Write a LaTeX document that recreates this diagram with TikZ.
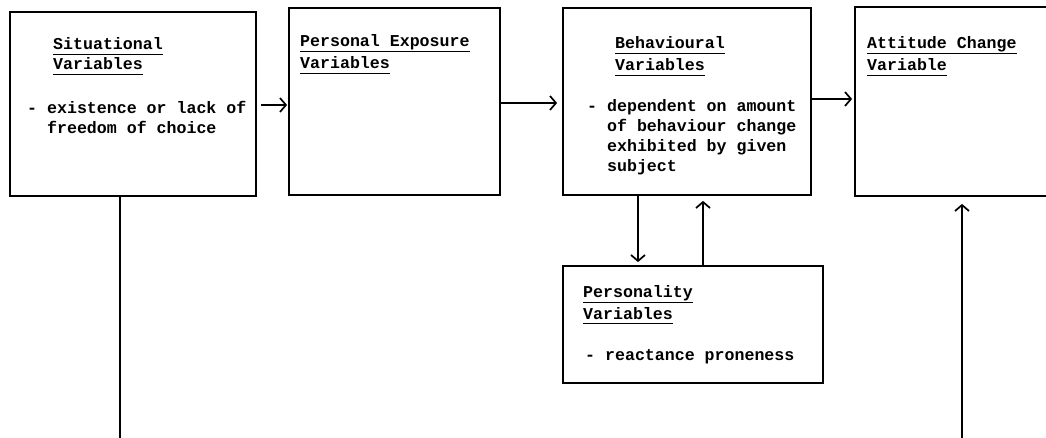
\documentclass[tikz,border=0pt]{standalone}
\usepackage{fontspec}
\newfontfamily\tw{Liberation Mono}
\usetikzlibrary{arrows.meta,calc}
\tikzset{
  box/.style={draw, line width=1.8pt, rectangle, inner sep=0pt},
  txt/.style={anchor=base west, inner sep=0pt, font=\tw\bfseries\fontsize{16.6}{20}\selectfont, align=left},
  ul/.style={txt, append after command={([yshift=-4.5pt]\tikzlastnode.base west) edge[line width=1.8pt] ([yshift=-4.5pt]\tikzlastnode.base east)}},
  conn/.style={line width=1.7pt},
  arr/.style={conn, -{Straight Barb[length=6pt,width=14pt,line width=1.7pt]}},
}
\begin{document}
\begin{tikzpicture}[x=1pt,y=-1pt]
\useasboundingbox[fill=white] (0,0) rectangle (1046,438);
% boxes
\node[box, minimum width=246pt, minimum height=184pt] (sit) at (133,104) {};
\node[box, minimum width=211pt, minimum height=187pt] (pex) at (394.5,101.5) {};
\node[box, minimum width=248pt, minimum height=187pt] (beh) at (687,101.5) {};
\node[box, minimum width=220pt, minimum height=189pt] (att) at (965,101.5) {};
\node[box, minimum width=260pt, minimum height=117pt] (per) at (693,324.5) {};
% texts
\node[ul] (sit1) at (53,50) {Situational};
\node[ul] (sit2) at (53,70) {Variables};
\node[txt] (sit3) at (27,134) {- existence or lack of\\\hphantom{- }freedom of choice};
\node[ul] (pex1) at (300,47) {Personal Exposure};
\node[ul] (pex2) at (300,69) {Variables};
\node[ul] (beh1) at (615,49) {Behavioural};
\node[ul] (beh2) at (615,71) {Variables};
\node[txt] (beh3) at (587,172) {- dependent on amount\\\hphantom{- }of behaviour change\\\hphantom{- }exhibited by given\\\hphantom{- }subject};
\node[ul] (att1) at (867,49) {Attitude Change};
\node[ul] (att2) at (867,71) {Variable};
\node[ul] (per1) at (583,298) {Personality};
\node[ul] (per2) at (583,319) {Variables};
\node[txt] (per3) at (585,360) {- reactance proneness};
% connectors
\draw[arr, shorten <=4pt, shorten >=1pt] (sit.east |- 0,105) -- (pex.west |- 0,105);
\draw[arr, shorten >=5pt] (pex.east |- 0,103) -- (beh.west |- 0,103);
\draw[arr, shorten >=2pt] (beh.east |- 0,99) -- (att.west |- 0,99);
\draw[arr, shorten >=3pt] ($(beh.south)+(-49,0)$) -- ($(per.north)+(-55,0)$);
\draw[arr, shorten >=5pt] ($(per.north)+(10,0)$) -- ($(beh.south)+(16,0)$);
\coordinate (b1) at (120,439.5);
\coordinate (b2) at (962,439.5);
\draw[arr, shorten >=7pt] ($(sit.south)+(-13,0)$) -- (b1) -- (b2) -- (att.south -| b2);
\end{tikzpicture}
\end{document}
